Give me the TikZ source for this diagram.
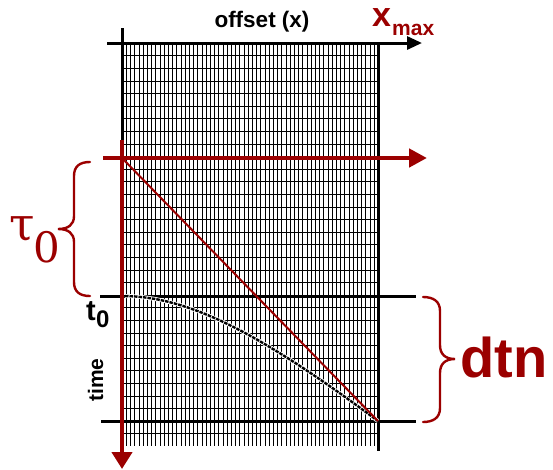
\documentclass[tikz,border=0pt]{standalone}
\usepackage{fontspec}
\setmainfont{Liberation Sans}
\newfontfamily\serifgreek{DejaVu Serif}
\usetikzlibrary{arrows.meta}
\definecolor{dkred}{RGB}{155,0,0}
\tikzset{
  gridline/.style={line width=0.45pt, black},
  axisblack/.style={line width=3pt, black},
  axisred/.style={line width=4.5pt, dkred},
  bracered/.style={line width=2.4pt, dkred, line cap=round},
  lbl/.style={inner sep=0pt, font=\bfseries},
}
\begin{document}
\begin{tikzpicture}[x=1pt,y=-1pt]
\useasboundingbox (0,0) rectangle (553,469);
% grid
\foreach \i in {1,...,60} {
  \draw[gridline] ({122+\i*4.2},43) -- ({122+\i*4.2},446);
}
\foreach \k in {1,...,31} {
  \draw[gridline] (122,{43+\k*12.6}) -- (378,{43+\k*12.6});
}
% coordinates
\coordinate (topL) at (107,43);
\coordinate (topR) at (422,43);
\coordinate (vTop) at (122,28);
\coordinate (vMid) at (122,160);
\coordinate (rbTop) at (378,43);
\coordinate (rbBot) at (378,451);
\coordinate (t0L) at (100,296);
\coordinate (t0R) at (416,296);
\coordinate (bL) at (101,421);
\coordinate (bR) at (416,421);
\coordinate (redHL) at (103,158);
\coordinate (redHR) at (427,158);
\coordinate (redVT) at (122,140);
\coordinate (redVB) at (122,469);
\coordinate (origin) at (122,158);
\coordinate (endpt) at (378,421);
% black axes
\draw[axisblack] (vTop) -- (vMid);
\draw[axisblack, -{Triangle[length=15pt,width=13pt]}] (topL) -- (topR);
\draw[axisblack] (rbTop) -- (rbBot);
\draw[axisblack] (t0L) -- (t0R);
\draw[axisblack] (bL) -- (bR);
% hyperbola
\draw[white, line width=4pt] plot[domain=3:256, samples=80] ({122+\x}, {158+10*sqrt(13.8*13.8+(\x/11.434)^2)});
\draw[black, line width=2.4pt, dash pattern=on 3.5pt off 1pt] plot[domain=3:256, samples=80] ({122+\x}, {158+10*sqrt(13.8*13.8+(\x/11.434)^2)});
% red diagonal
\draw[dkred, line width=2pt] (origin) -- (endpt);
% red axes
\draw[axisred, -{Triangle[length=18pt,width=18pt]}] (redHL) -- (redHR);
\draw[axisred, -{Triangle[length=17pt,width=20pt]}] (redVT) -- (redVB);
% braces
\draw[bracered] (90,162) .. controls (80,162) and (74,166) .. (74,176) -- (74,216) .. controls (74,225) and (68,229) .. (58,229) .. controls (68,229) and (74,233) .. (74,242) -- (74,282) .. controls (74,292) and (80,296) .. (90,296);
\draw[bracered] (423,297) .. controls (433,297) and (440,301) .. (440,311) -- (440,345) .. controls (440,354) and (445,359) .. (455,359) .. controls (445,359) and (440,364) .. (440,373) -- (440,408) .. controls (440,418) and (433,422) .. (423,422);
% labels
\node[lbl, anchor=base, font=\bfseries\fontsize{22.5}{26}\selectfont] (offset) at (262,27) {offset (x)};
\node[lbl, anchor=base west, text=dkred, font=\bfseries\fontsize{34}{40}\selectfont] (xm) at (372,26) {x};
\node[lbl, anchor=base west, text=dkred, font=\bfseries\fontsize{21}{25}\selectfont] (max) at (392,35) {max};
\node[lbl, anchor=base west, font=\bfseries\fontsize{29}{34}\selectfont] (t) at (86,320) {t};
\node[lbl, anchor=base west, font=\bfseries\fontsize{24}{28}\selectfont] (tz) at (96,327) {0};
\node[lbl, anchor=base, rotate=90, font=\bfseries\fontsize{21}{25}\selectfont] (time) at (103,380) {time};
\node[inner sep=0pt, anchor=base west, text=dkred, font=\serifgreek\fontsize{46}{56}\selectfont] (tau) at (9,240) {τ};
\node[inner sep=0pt, anchor=base west, text=dkred, font=\serifgreek\fontsize{42}{50}\selectfont] (tauz) at (33,262) {0};
\node[lbl, anchor=base west, text=dkred, font=\bfseries\fontsize{56}{66}\selectfont] (dtn) at (460,377) {dtn};
\end{tikzpicture}
\end{document}
